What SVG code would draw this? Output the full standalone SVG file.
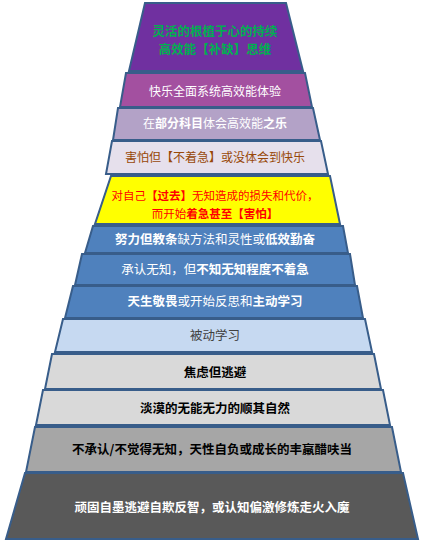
<svg xmlns="http://www.w3.org/2000/svg" width="422" height="544" viewBox="0 0 422 544">
<style>
  .lvl { stroke: #385d8a; stroke-width: 2; stroke-linejoin: miter; }
  text { font-family: "Noto Sans CJK SC", "Noto Sans", sans-serif; font-size: 12.5px; text-anchor: middle; }
  .b { font-weight: bold; }
  .sm { font-size: 11.5px; }
  .md { font-size: 12px; }
</style>
<rect width="422" height="544" fill="#ffffff"/>
<g id="level1">
  <polygon class="lvl" fill="#7030a0" points="145,3 286,3 303,71 129,71"/>
  <text x="215" y="36" fill="#00b050" class="b">灵活的根植于心的持续</text>
  <text x="215" y="54" fill="#00b050" class="b">高效能【补缺】思维</text>
</g>
<g id="level2">
  <polygon class="lvl" fill="#a350a0" points="126,73 305,73 312,107 120,107"/>
  <text x="215" y="96" fill="#ffffff" class="md">快乐全面系统高效能体验</text>
</g>
<g id="level3">
  <polygon class="lvl" fill="#b3a2c7" points="118,108 313,108 320,140 113,140"/>
  <text x="215" y="128" fill="#ffffff" class="md">在<tspan class="b">部分科目</tspan>体会高效能<tspan class="b">之乐</tspan></text>
</g>
<g id="level4">
  <polygon class="lvl" fill="#e6e0ec" points="112,141 321,141 328,174 106,174"/>
  <text x="215" y="162" fill="#984807" class="md">害怕但【不着急】或没体会到快乐</text>
</g>
<g id="level5">
  <polygon class="lvl" fill="#ffff00" points="111,176 330,176 340,224 95,224"/>
  <text x="215" y="200" fill="#ff0000" class="sm">对自己<tspan class="b">【过去】</tspan>无知造成的损失和代价，</text>
  <text x="215" y="218" fill="#ff0000" class="sm">而开始<tspan class="b">着急甚至【害怕】</tspan></text>
</g>
<g id="level6">
  <polygon class="lvl" fill="#4f81bd" points="93,226 343,226 348,253 85,253"/>
  <text x="215" y="244" fill="#ffffff"><tspan class="b">努力但教条</tspan>缺方法和灵性或<tspan class="b">低效勤奋</tspan></text>
</g>
<g id="level7">
  <polygon class="lvl" fill="#4f81bd" points="82,254 350,254 355,285 75,285"/>
  <text x="215" y="274" fill="#ffffff">承认无知，但<tspan class="b">不知无知程度不着急</tspan></text>
</g>
<g id="level8">
  <polygon class="lvl" fill="#4f81bd" points="73,286 357,286 363,318 65,318"/>
  <text x="215" y="306" fill="#ffffff"><tspan class="b">天生敬畏</tspan>或开始反思和<tspan class="b">主动学习</tspan></text>
</g>
<g id="level9">
  <polygon class="lvl" fill="#c6d9f1" points="63,319 365,319 372,352 55,352"/>
  <text x="215" y="340" fill="#404040">被动学习</text>
</g>
<g id="level10">
  <polygon class="lvl" fill="#d9d9d9" points="52,354 374,354 381,389 45,389"/>
  <text x="215" y="377" fill="#000000" class="b">焦虑但逃避</text>
</g>
<g id="level11">
  <polygon class="lvl" fill="#d9d9d9" points="43,390 383,390 390,425 36,425"/>
  <text x="215" y="413" fill="#000000" class="b">淡漠的无能无力的顺其自然</text>
</g>
<g id="level12">
  <polygon class="lvl" fill="#a6a6a6" points="35,427 392,427 401,472 26,472"/>
  <text x="212" y="454" fill="#000000" class="b">不承认/不觉得无知，天性自负或成长的丰羸醋呋当</text>
</g>
<g id="level13">
  <polygon class="lvl" fill="#595959" points="25,473 403,473 418,539 6,539"/>
  <text x="212" y="512" fill="#ffffff" class="b">顽固自墨逃避自欺反智，或认知偏激修炼走火入魔</text>
</g>
</svg>
